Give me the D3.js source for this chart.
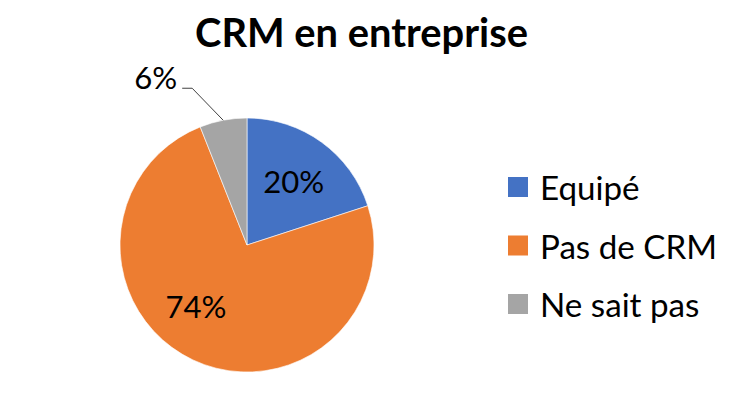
<!DOCTYPE html>
<html>
<head>
<meta charset="utf-8">
<script src="https://cdn.jsdelivr.net/npm/d3@7"></script>
<style>
  html, body { margin: 0; padding: 0; background: #fff; }
  svg { display: block; }
  text { font-family: Lato, "Open Sans", sans-serif; fill: #000; }
</style>
</head>
<body>
<svg id="chart" width="739" height="418"></svg>
<script>
// ---- data ----
const title = "CRM en entreprise";
const categories = ["Equipé", "Pas de CRM", "Ne sait pas"];
const values = [20, 74, 6];
const labels = ["20%", "74%", "6%"];
const colors = ["#4472C4", "#ED7D31", "#A5A5A5"];

// ---- layout ----
const W = 739, H = 418;
const cx = 247, cy = 245, R = 127;
const svg = d3.select("#chart");

// fit a text element's font size so that it has the target width
function fitWidth(sel, target, base) {
  sel.attr("font-size", base);
  const w = sel.node().getComputedTextLength();
  const fs = base * target / w;
  sel.attr("font-size", fs);
  return fs;
}

// title
const t = svg.append("text")
  .attr("x", 361.5).attr("y", 47)
  .attr("text-anchor", "middle")
  .attr("font-weight", "bold")
  .text(title);
fitWidth(t, 333, 40);

// pie
const pie = d3.pie().sort(null).value(d => d).startAngle(0).endAngle(2 * Math.PI);
const arcs = pie(values);
const arc = d3.arc().innerRadius(0).outerRadius(R);
const g = svg.append("g").attr("transform", `translate(${cx},${cy})`);
g.selectAll("path.slice").data(arcs).enter().append("path")
  .attr("class", "slice")
  .attr("d", arc)
  .attr("fill", (d, i) => colors[i])
  .attr("stroke", "#fff")
  .attr("stroke-width", 0.6);

// data labels
const probe = svg.append("text").text("20%");
const labelFs = fitWidth(probe, 61, 36);
probe.remove();

const inside = [0, 1];                 // labels drawn inside their slice
const labelRadius = 0.625 * R;
const labelAngleShift = [0, 0.26, 0];  // best-fit nudge (radians)
inside.forEach(i => {
  const a = (arcs[i].startAngle + arcs[i].endAngle) / 2 + labelAngleShift[i];
  const x = Math.sin(a) * labelRadius;
  const y = -Math.cos(a) * labelRadius;
  g.append("text")
    .attr("x", x).attr("y", y)
    .attr("text-anchor", "middle")
    .attr("dominant-baseline", "central")
    .attr("font-size", labelFs)
    .text(labels[i]);
});

// outside label with leader line (Ne sait pas)
{
  const i = 2;
  const a = (arcs[i].startAngle + arcs[i].endAngle) / 2;
  const p0 = [Math.sin(a) * R, -Math.cos(a) * R];
  const p1 = [p0[0] - 31, p0[1] - 32];
  const p2 = [p1[0] - 10, p1[1]];
  g.append("polyline")
    .attr("points", [p0, p1, p2].map(p => p.join(",")).join(" "))
    .attr("fill", "none")
    .attr("stroke", "#404040")
    .attr("stroke-width", 1);
  g.append("text")
    .attr("x", p2[0] - 5).attr("y", p2[1] + 1)
    .attr("text-anchor", "end")
    .attr("font-size", labelFs)
    .text(labels[i]);
}

// legend
const probe2 = svg.append("text").text(categories[1]);
const legendFs = fitWidth(probe2, 177, 36);
probe2.remove();

const legendY = d3.scalePoint().domain(categories).range([187, 304]);
const lg = svg.append("g");
const items = lg.selectAll("g").data(categories).enter().append("g")
  .attr("transform", d => `translate(508,${legendY(d)})`);
items.append("rect")
  .attr("x", 0).attr("y", -10).attr("width", 20).attr("height", 20)
  .attr("fill", (d, i) => colors[i]);
items.append("text")
  .attr("x", 32).attr("y", 0)
  .attr("dominant-baseline", "central")
  .attr("font-size", legendFs)
  .text(d => d);
</script>
</body>
</html>
